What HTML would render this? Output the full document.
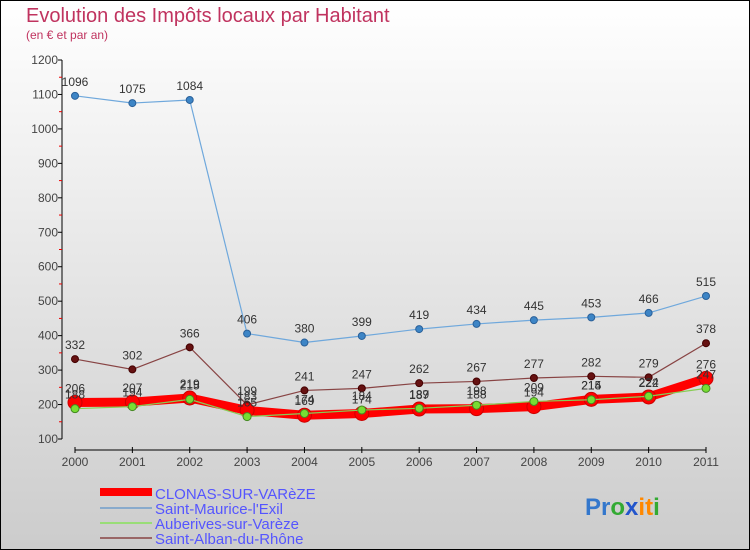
<!DOCTYPE html>
<html><head><meta charset="utf-8"><style>
body{margin:0;width:750px;height:550px;overflow:hidden;font-family:"Liberation Sans",sans-serif;}
svg{display:block}
</style></head><body>
<svg id="chart" width="750" height="550" xmlns="http://www.w3.org/2000/svg">
<defs><linearGradient id="bg" x1="0" y1="0" x2="0" y2="1"><stop offset="0" stop-color="#ffffff"/><stop offset="1" stop-color="#cccccc"/></linearGradient></defs>
<rect x="0.5" y="0.5" width="749" height="549" fill="url(#bg)" stroke="#000"/>
<text x="26" y="22" font-size="20" fill="#c0335f">Evolution des Impôts locaux par Habitant</text>
<text x="26" y="39" font-size="12" fill="#c0335f">(en € et par an)</text>
<g id="axes"></g>
<g id="series"></g>
<g id="legend">
<rect x="100" y="488" width="52" height="8" fill="#ff0000"/>
<text x="155" y="499" font-size="15" fill="#5555ff">CLONAS-SUR-VARèZE</text>
<line x1="100" y1="508" x2="152" y2="508" stroke="#88aacc" stroke-width="2"/>
<text x="155" y="514" font-size="15" fill="#5555ff">Saint-Maurice-l'Exil</text>
<line x1="100" y1="523" x2="152" y2="523" stroke="#99dd77" stroke-width="2"/>
<text x="155" y="529" font-size="15" fill="#5555ff">Auberives-sur-Varèze</text>
<line x1="100" y1="538" x2="152" y2="538" stroke="#996666" stroke-width="2"/>
<text x="155" y="544" font-size="15" fill="#5555ff">Saint-Alban-du-Rhône</text>
</g>
<g font-size="24" font-weight="bold">
<text x="585" y="515"><tspan fill="#3377cc">Pr</tspan><tspan fill="#33aa33">o</tspan><tspan fill="#2255cc">x</tspan><tspan fill="#ff8800">i</tspan><tspan fill="#ff8800">t</tspan><tspan fill="#33aa33">i</tspan></text>
</g>
</svg>
<script>
const years=["2000","2001","2002","2003","2004","2005","2006","2007","2008","2009","2010","2011"];
const yTicks=[100,200,300,400,500,600,700,800,900,1000,1100,1200];
const clonas=[206,207,219,183,169,174,187,188,194,215,222,276];
const saintMaurice=[1096,1075,1084,406,380,399,419,434,445,453,466,515];
const auberives=[188,194,215,165,174,184,189,198,209,214,224,247];
const saintAlban=[332,302,366,199,241,247,262,267,277,282,279,378];
const NS="http://www.w3.org/2000/svg";
const x0=75,x1=706,yTop=60,yBot=439,vMin=100,vMax=1200;
function xs(i){return x0+(x1-x0)*i/(years.length-1);}
function ys(v){return yBot-(v-vMin)*(yBot-yTop)/(vMax-vMin);}
function mk(tag,attrs,parent){const e=document.createElementNS(NS,tag);for(const k in attrs)e.setAttribute(k,attrs[k]);parent.appendChild(e);return e;}
const axes=document.getElementById('axes');
let yl=mk('line',{x1:62,y1:yTop,x2:62,y2:yBot,stroke:'#000','stroke-width':1},axes);


yTicks.forEach((t,i)=>{
  const y=ys(t);
  let tk=mk('line',{x1:58,y1:y,x2:62,y2:y,stroke:'#000'},axes);
  
  
  let lb=mk('text',{x:58,y:y+4,'font-size':12,fill:'#444','text-anchor':'end'},axes);
  lb.textContent=t;
  
  
  if(i<yTicks.length-1){
    const ym=ys(t+50);
    let mt=mk('line',{x1:59,y1:ym,x2:62,y2:ym,stroke:'#e00'},axes);
    
    
  }
});
let xl=mk('line',{x1:x0,y1:450,x2:x1,y2:450,stroke:'#000'},axes);


years.forEach((yr,i)=>{
  const x=xs(i);
  let tk=mk('line',{x1:x,y1:447,x2:x,y2:453,stroke:'#000'},axes);
  
  
  let lb=mk('text',{x:x,y:466,'font-size':12,fill:'#444','text-anchor':'middle'},axes);
  lb.textContent=yr;
  
  
});
const sg=document.getElementById('series');
function draw(vals,name,color,w,r,fill,stroke){
  const g=mk('g',{},sg);
  
  
  const pts=vals.map((v,i)=>xs(i)+','+ys(v)).join(' ');
  let pl=mk('polyline',{points:pts,fill:'none',stroke:color,'stroke-width':w,'stroke-linejoin':'round'},g);
  
  
  vals.forEach((v,i)=>{
    let c=mk('circle',{cx:xs(i),cy:ys(v),r:r,fill:fill,stroke:stroke,'stroke-width':1},g);
    
    
    let t=mk('text',{x:xs(i),y:ys(v)-10,'font-size':12,fill:'#333','text-anchor':'middle'},g);
    t.textContent=v;
    
    
  });
}
draw(saintMaurice,'saint-maurice','#6fa8dc',1.2,3.5,'#3d85c6','#2a6099');
draw(saintAlban,'saint-alban','#884444',1.2,3.5,'#661111','#440000');
draw(clonas,'clonas','#ff0000',9,7,'#ff0000','#cc0000');
draw(auberives,'auberives','#88cc55',1.2,4,'#77dd33','#448822');
</script>
</body></html>
